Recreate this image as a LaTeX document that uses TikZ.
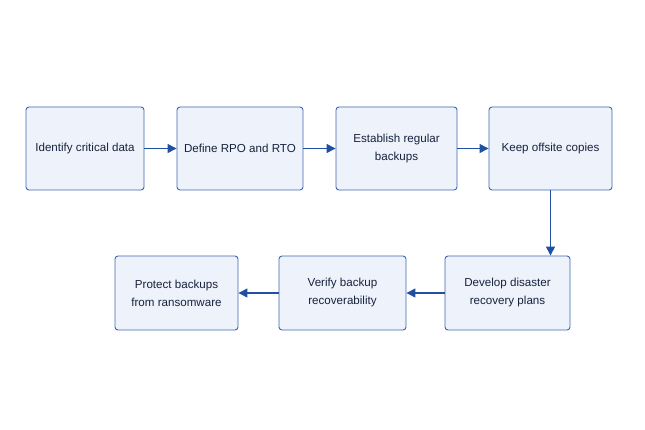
\documentclass[tikz,border=0pt]{standalone}
\usepackage{fontspec}
\setmainfont{Liberation Sans}
\usepackage{tikz}
\usetikzlibrary{positioning,arrows.meta}

\definecolor{boxfill}{HTML}{EDF2FB}
\definecolor{boxline}{HTML}{3F66B2}
\definecolor{flowblue}{HTML}{2150A0}
\definecolor{steptext}{HTML}{17233D}

\tikzset{
    stepbox/.style={draw=boxline,fill=boxfill,rounded corners=3pt,line width=0.9pt,
        align=center,text=steptext,inner sep=2pt,
        font=\fontsize{11.6}{18}\selectfont},
    flow/.style={draw=flowblue,line width=1.3pt,-{Triangle[length=9pt,width=9pt]}}
}

\begin{document}
\begin{tikzpicture}[x=1pt,y=-1pt]
    \useasboundingbox (0,0) rectangle (645,430);
    % top row
    \node (identify) [stepbox,minimum width=118pt,minimum height=83pt] at (85,148.5) {Identify critical data};
    \node (define)   [stepbox,minimum width=126pt,minimum height=83pt] at (240,148.5) {Define RPO and RTO};
    \node (establish)[stepbox,minimum width=121pt,minimum height=83pt] at (396.5,148.5) {Establish regular\\backups};
    \node (offsite)  [stepbox,minimum width=123pt,minimum height=83pt] at (550.5,148.5) {Keep offsite copies};
    % bottom row
    \node (develop)  [stepbox,minimum width=125pt,minimum height=74pt] at (507.5,293) {Develop disaster\\recovery plans};
    \node (verify)   [stepbox,minimum width=127pt,minimum height=74pt] at (342.5,293) {Verify backup\\recoverability};
    \node (protect)  [stepbox,minimum width=123pt,minimum height=74pt] at (176.5,293) {Protect backups\\from ransomware};
    \draw[flow] (identify) -- (define);
    \draw[flow] (define) -- (establish);
    \draw[flow] (establish) -- (offsite);
    \draw[flow] (offsite.south) -- (offsite.south |- develop.north);
    \draw[flow] (develop) -- (verify);
    \draw[flow] (verify) -- (protect);
\end{tikzpicture}
\end{document}
